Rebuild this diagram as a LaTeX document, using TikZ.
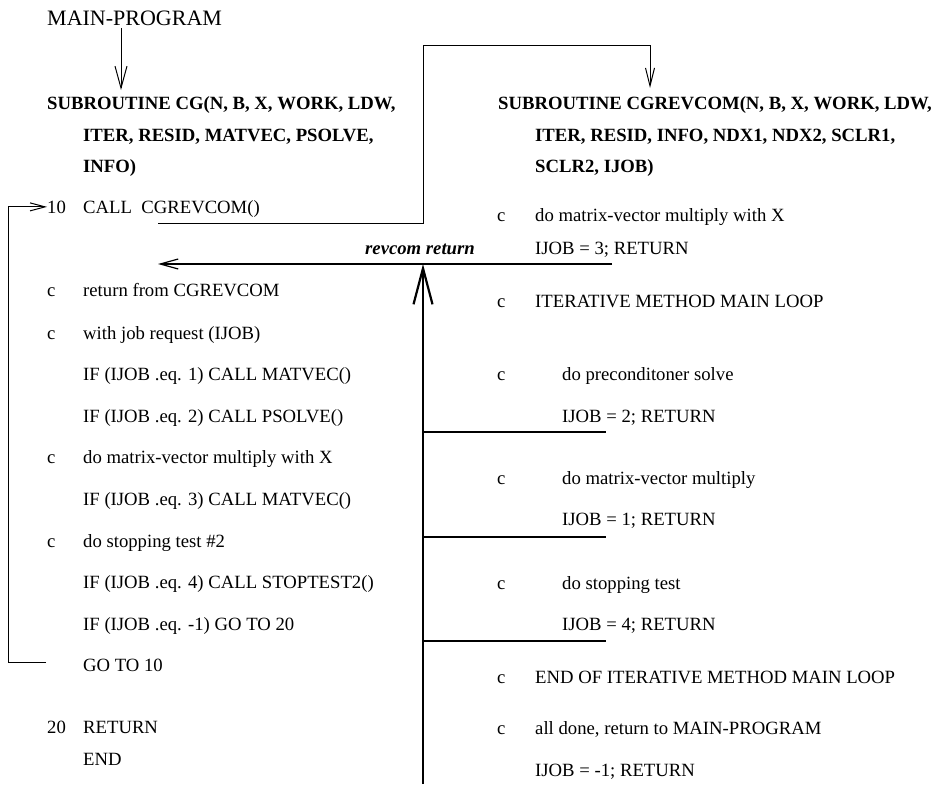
\documentclass[tikz,border=0pt]{standalone}
\usepackage{fontspec}
\setmainfont{Liberation Serif}
\usetikzlibrary{arrows.meta}

\begin{document}
\begin{tikzpicture}[x=1pt,y=-1pt,
  code/.style={anchor=base west,inner sep=0pt,font=\fontsize{18.7}{22}\selectfont},
  subr/.style={anchor=base west,inner sep=0pt,font=\fontsize{18.7}{22}\selectfont\bfseries},
  wire/.style={line width=1pt},
  retwire/.style={line width=2.2pt}]
\useasboundingbox (0,0) rectangle (941,784);

\node[code,font=\fontsize{22}{26}\selectfont] (main) at (47,26) {MAIN-PROGRAM};

\node[subr] (cg1) at (47,109) {SUBROUTINE CG(N, B, X, WORK, LDW,};
\node[subr] (cg2) at (83,141) {ITER, RESID, MATVEC, PSOLVE,};
\node[subr] (cg3) at (83,172) {INFO)};
\node[code] (l10) at (47,213) {10};
\node[code] (call) at (83,213) {CALL\ \ CGREVCOM()};
\node[code] (c1) at (47,296) {c};
\node[code] (t1) at (83,296) {return from CGREVCOM};
\node[code] (c2) at (47,339) {c};
\node[code] (t2) at (83,339) {with job request (IJOB)};
\node[code] (t3) at (83,380) {IF (IJOB .eq. 1) CALL MATVEC()};
\node[code] (t4) at (83,422) {IF (IJOB .eq. 2) CALL PSOLVE()};
\node[code] (c5) at (47,463) {c};
\node[code] (t5) at (83,463) {do matrix-vector multiply with X};
\node[code] (t6) at (83,505) {IF (IJOB .eq. 3) CALL MATVEC()};
\node[code] (c7) at (47,547) {c};
\node[code] (t7) at (83,547) {do stopping test \#2};
\node[code] (t8) at (83,588) {IF (IJOB .eq. 4) CALL STOPTEST2()};
\node[code] (t9) at (83,630) {IF (IJOB .eq. -1) GO TO 20};
\node[code] (goto) at (83,671) {GO TO 10};
\node[code] (l20) at (47,733) {20};
\node[code] (ret) at (83,733) {RETURN};
\node[code] (fin) at (83,765) {END};

\node[subr] (rv1) at (498,109) {SUBROUTINE CGREVCOM(N, B, X, WORK, LDW,};
\node[subr] (rv2) at (535,141) {ITER, RESID, INFO, NDX1, NDX2, SCLR1,};
\node[subr] (rv3) at (535,172) {SCLR2, IJOB)};
\node[code] (rc1) at (497,221) {c};
\node[code] (r1) at (535,221) {do matrix-vector multiply with X};
\node[code] (r2) at (535,254) {IJOB = 3; RETURN};
\node[code] (rc3) at (497,307) {c};
\node[code] (r3) at (535,307) {ITERATIVE METHOD MAIN LOOP};
\node[code] (rc4) at (497,380) {c};
\node[code] (r4) at (562,380) {do preconditoner solve};
\node[code] (r5) at (562,422) {IJOB = 2; RETURN};
\node[code] (rc6) at (497,484) {c};
\node[code] (r6) at (562,484) {do matrix-vector multiply};
\node[code] (r7) at (562,525) {IJOB = 1; RETURN};
\node[code] (rc8) at (497,589) {c};
\node[code] (r8) at (562,589) {do stopping test};
\node[code] (r9) at (562,630) {IJOB = 4; RETURN};
\node[code] (rc10) at (497,683) {c};
\node[code] (r10) at (535,683) {END OF ITERATIVE METHOD MAIN LOOP};
\node[code] (rc11) at (497,734) {c};
\node[code] (r11) at (535,734) {all done, return to MAIN-PROGRAM};
\node[code] (r12) at (535,776) {IJOB = -1; RETURN};

\node[anchor=base east,inner sep=0pt,font=\fontsize{18.7}{22}\selectfont\bfseries\itshape] (rr) at (475,254) {revcom return};

\coordinate (mp) at (121,28);
\coordinate (cgin) at (121,90);
\coordinate (callout) at (158,223);
\coordinate (rvin) at (650,88);
\coordinate (loopend) at (46,662);
\coordinate (retbot) at (423,784);
\coordinate (rethub) at (423,264);
\coordinate (retend) at (612,264);
\coordinate (retin) at (158,264);

\draw[wire,-{Straight Barb[length=22pt,width=12pt]}] (mp) -- (cgin);
\draw[wire,-{Straight Barb[length=18pt,width=9pt]}] (callout) -- (423,223) -- (423,46) -- (650,46) -- (rvin);
\draw[wire,-{Straight Barb[length=15pt,width=8pt]}] (loopend) -- (8,662) |- (l10.west);
\draw[retwire,-{Straight Barb[length=36pt,width=19pt]}] (retbot) -- (rethub);
\draw[retwire,-{Straight Barb[length=18pt,width=10pt,line width=1.2pt]}] (retend) -- (retin);
\foreach \y in {432,537,641} \draw[retwire] (423,\y) -- (606,\y);
\end{tikzpicture}
\end{document}
